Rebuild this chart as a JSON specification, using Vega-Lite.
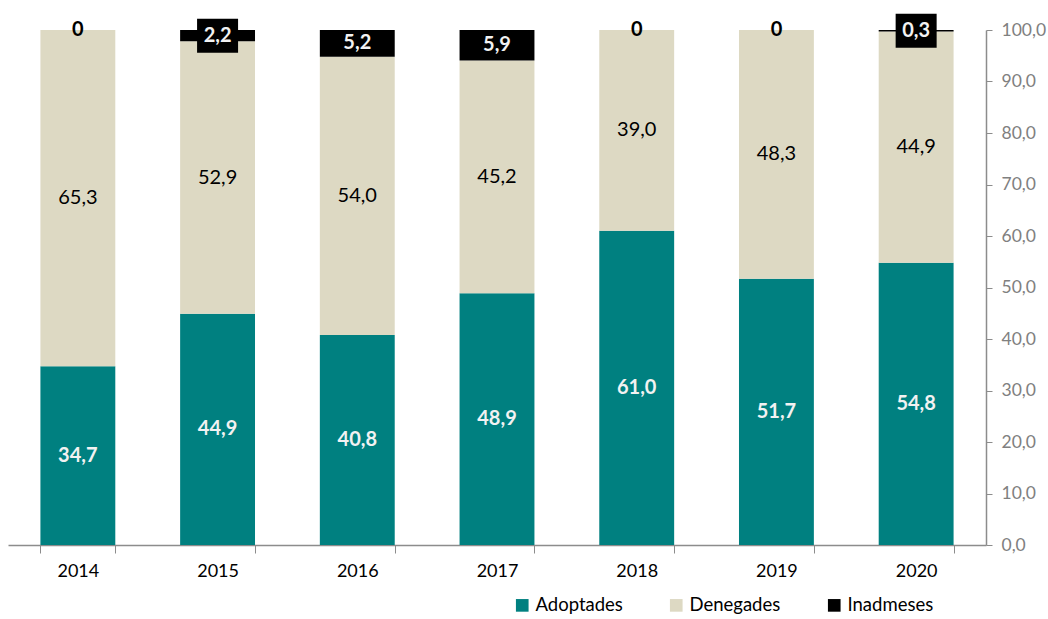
{
  "$schema": "https://vega.github.io/schema/vega-lite/v6.json",
  "autosize": {"type": "none"},
  "width": 978,
  "height": 515,
  "padding": {"left": 8, "top": 30, "right": 62, "bottom": 74},
  "background": "white",
  "config": {
    "view": {"stroke": null},
    "font": "Lato"
  },
  "data": {
    "values": [
      {"year": "2014", "cat": "Adoptades", "value": 34.7},
      {"year": "2014", "cat": "Denegades", "value": 65.3},
      {"year": "2014", "cat": "Inadmeses", "value": 0},
      {"year": "2015", "cat": "Adoptades", "value": 44.9},
      {"year": "2015", "cat": "Denegades", "value": 52.9},
      {"year": "2015", "cat": "Inadmeses", "value": 2.2},
      {"year": "2016", "cat": "Adoptades", "value": 40.8},
      {"year": "2016", "cat": "Denegades", "value": 54.0},
      {"year": "2016", "cat": "Inadmeses", "value": 5.2},
      {"year": "2017", "cat": "Adoptades", "value": 48.9},
      {"year": "2017", "cat": "Denegades", "value": 45.2},
      {"year": "2017", "cat": "Inadmeses", "value": 5.9},
      {"year": "2018", "cat": "Adoptades", "value": 61.0},
      {"year": "2018", "cat": "Denegades", "value": 39.0},
      {"year": "2018", "cat": "Inadmeses", "value": 0},
      {"year": "2019", "cat": "Adoptades", "value": 51.7},
      {"year": "2019", "cat": "Denegades", "value": 48.3},
      {"year": "2019", "cat": "Inadmeses", "value": 0},
      {"year": "2020", "cat": "Adoptades", "value": 54.8},
      {"year": "2020", "cat": "Denegades", "value": 44.9},
      {"year": "2020", "cat": "Inadmeses", "value": 0.3}
    ]
  },
  "transform": [
    {"stack": "value", "groupby": ["year"], "sort": [{"field": "cat", "order": "ascending"}], "as": ["y0", "y1"]},
    {"calculate": "(datum.y0 + datum.y1) / 2", "as": "mid"},
    {"calculate": "datum.value == 0 ? '0' : replace(format(datum.value, '.1f'), '.', ',')", "as": "label"}
  ],
  "encoding": {
    "x": {
      "field": "year",
      "type": "ordinal",
      "scale": {"paddingInner": 0.464, "paddingOuter": 0.232},
      "axis": {
        "title": null,
        "labelAngle": 0,
        "labelFontSize": 18,
        "labelColor": "#000000",
        "labelPadding": 9,
        "tickBand": "extent",
        "tickSize": 8,
        "tickColor": "#8c8c8c",
        "domainColor": "#8c8c8c",
        "domainWidth": 1.5,
        "tickWidth": 1
      }
    }
  },
  "layer": [
    {
      "mark": {"type": "bar"},
      "encoding": {
        "y": {
          "field": "y0",
          "type": "quantitative",
          "scale": {"domain": [0, 100], "nice": false},
          "axis": {
            "orient": "right",
            "title": null,
            "values": [0, 10, 20, 30, 40, 50, 60, 70, 80, 90, 100],
            "labelExpr": "replace(format(datum.value, '.1f'), '.', ',')",
            "labelFontSize": 17.5,
            "labelColor": "#808080",
            "labelPadding": 9,
            "tickSize": 6,
            "tickColor": "#8c8c8c",
            "domainColor": "#8c8c8c",
            "domainWidth": 1.5,
            "grid": false
          }
        },
        "y2": {"field": "y1"},
        "color": {
          "field": "cat",
          "type": "nominal",
          "scale": {"domain": ["Adoptades", "Denegades", "Inadmeses"], "range": ["#008080", "#DDD9C3", "#000000"]},
          "legend": {
            "title": null,
            "orient": "none",
            "direction": "horizontal",
            "legendX": 505,
            "legendY": 566,
            "symbolType": "square",
            "symbolSize": 160,
            "symbolStrokeWidth": 0,
            "labelFontSize": 18.5,
            "labelColor": "#000000",
            "labelOffset": 4,
            "columnPadding": 44
          }
        }
      }
    },
    {
      "transform": [{"filter": "datum.cat == 'Inadmeses' && datum.value > 0 && datum.value < 3"}],
      "mark": {"type": "point", "shape": "M-1,-0.83H1V0.83H-1Z", "filled": true, "color": "#000000", "opacity": 1, "size": 1681},
      "encoding": {
        "y": {"field": "mid", "type": "quantitative"}
      }
    },
    {
      "transform": [{"filter": "datum.cat == 'Denegades'"}],
      "mark": {"type": "text", "fontSize": 20, "color": "#000000", "baseline": "middle"},
      "encoding": {
        "y": {"field": "mid", "type": "quantitative"},
        "text": {"field": "label"}
      }
    },
    {
      "transform": [{"filter": "datum.cat != 'Denegades'"}],
      "mark": {"type": "text", "fontSize": 20, "fontWeight": "bold", "baseline": "middle"},
      "encoding": {
        "y": {"field": "mid", "type": "quantitative"},
        "text": {"field": "label"},
        "color": {
          "condition": {"test": "datum.value == 0", "value": "#000000"},
          "value": "#F2F2F2"
        }
      }
    }
  ]
}
